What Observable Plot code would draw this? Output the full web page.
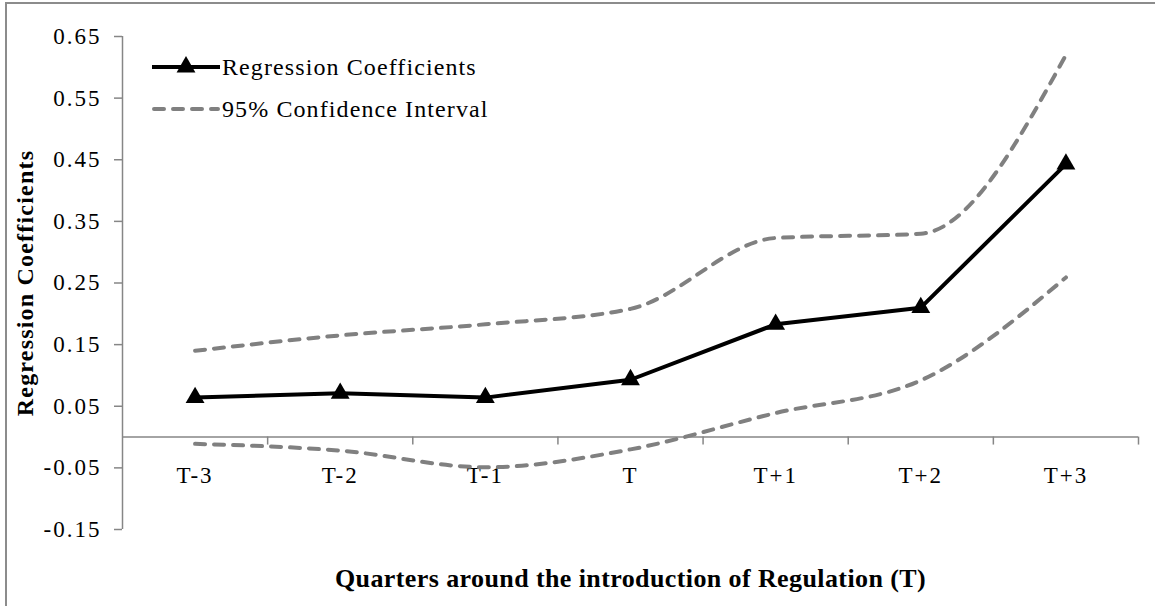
<!DOCTYPE html>
<html><head><meta charset="utf-8">
<script src="https://cdn.jsdelivr.net/npm/d3@7"></script>
<script src="https://cdn.jsdelivr.net/npm/@observablehq/plot@0.6"></script>
<style>
html,body{margin:0;padding:0;background:#fff;}
#wrap{position:relative;width:1155px;height:606px;overflow:hidden;background:#fff;}
#wrap svg{position:absolute;left:0;top:0;}
#frame{position:absolute;left:5px;top:2px;width:1300px;height:800px;border-left:2px solid #8c8c8c;border-top:2px solid #8c8c8c;pointer-events:none;}
g[aria-label="y-axis tick label"] text{letter-spacing:2px;}
.xlab text{letter-spacing:2px;}
.ytitle text{letter-spacing:1.2px;}
.xtitle text{letter-spacing:0.4px;}
.legend text{letter-spacing:1.1px;}
</style></head><body><div id="wrap"></div>
<script>
const quarters = ["T-3","T-2","T-1","T","T+1","T+2","T+3"];
const coefficients = [0.064,0.071,0.064,0.093,0.183,0.210,0.443];
const upperCI = [0.140,0.165,0.183,0.208,0.323,0.330,0.620];
const lowerCI = [-0.011,-0.022,-0.049,-0.020,0.039,0.092,0.259];
const yTicks = [-0.15,-0.05,0.05,0.15,0.25,0.35,0.45,0.55,0.65];
const seriesNames = ["Regression Coefficients","95% Confidence Interval"];
const xTitle = "Quarters around the introduction of Regulation (T)";
const yTitle = "Regression Coefficients";

const rows = quarters.map((q,i)=>({pos:i+0.5, q, coef:coefficients[i], upper:upperCI[i], lower:lowerCI[i]}));
const boundaries = d3.range(1, quarters.length+1);
const axisGray = "#868686";
const ciGray = "#808080";
const serif = "Liberation Serif, Times New Roman, serif";

const chart = Plot.plot({
  width:1155, height:606,
  marginLeft:122, marginRight:17, marginTop:36, marginBottom:77,
  style:{fontFamily:serif, fontSize:"23px", background:"transparent", color:"black"},
  x:{type:"linear", domain:[0, quarters.length], axis:null},
  y:{domain:[d3.min(yTicks), d3.max(yTicks)], axis:null},
  marks:[
    Plot.ruleX([0], {y1:d3.min(yTicks), y2:d3.max(yTicks), stroke:axisGray, strokeWidth:1.5}),
    Plot.axisY(yTicks, {tickSize:8, tickPadding:13, stroke:axisGray, strokeWidth:1.5, fill:"black", tickFormat:d=>d.toFixed(2), fontSize:23, label:null}),
    Plot.ruleY([0], {stroke:axisGray, strokeWidth:1.5}),
    Plot.ruleX(boundaries, {y1:0, y2:0, insetBottom:-8, stroke:axisGray, strokeWidth:1.5}),
    Plot.text(rows, {x:"pos", y:0, text:"q", lineAnchor:"bottom", dy:46, fontSize:23, fill:"black", className:"xlab"}),
    Plot.line(rows, {x:"pos", y:"upper", stroke:ciGray, strokeWidth:4, strokeDasharray:"10,9", strokeLinecap:"round", curve:"monotone-x"}),
    Plot.line(rows, {x:"pos", y:"lower", stroke:ciGray, strokeWidth:4, strokeDasharray:"10,9", strokeLinecap:"round", curve:"monotone-x"}),
    Plot.line(rows, {x:"pos", y:"coef", stroke:"black", strokeWidth:4}),
    Plot.dot(rows, {x:"pos", y:"coef", symbol:"triangle", fill:"black", stroke:"none", r:7}),
    Plot.text([yTitle], {text:d=>d, frameAnchor:"left", textAnchor:"middle", rotate:-90, dx:-97, fontWeight:"bold", fontSize:24, fill:"black", className:"ytitle"}),
    Plot.text([xTitle], {text:d=>d, frameAnchor:"bottom", textAnchor:"middle", lineAnchor:"bottom", dy:57, fontWeight:"bold", fontSize:26, fill:"black", className:"xtitle"})
  ]
});
const wrap = document.getElementById("wrap");
wrap.appendChild(chart);

// legend overlay
const leg = d3.select(wrap).append("svg").attr("class","legend")
  .attr("width",1155).attr("height",606)
  .style("font-family", serif).style("font-size","24px");
const legY = [67, 109];
const l1 = leg.append("g");
l1.append("line").attr("x1",152).attr("x2",220).attr("y1",legY[0]).attr("y2",legY[0]).attr("stroke","black").attr("stroke-width",4);
l1.append("path").attr("d", d3.symbol(d3.symbolTriangle, 7*7*Math.PI)()).attr("transform",`translate(186,${legY[0]})`).attr("fill","black");
l1.append("text").attr("x",222).attr("y",legY[0]).attr("dy","0.32em").text(seriesNames[0]);
const l2 = leg.append("g");
l2.append("line").attr("x1",154).attr("x2",218).attr("y1",legY[1]).attr("y2",legY[1]).attr("stroke",ciGray).attr("stroke-width",4).attr("stroke-dasharray","10,9").attr("stroke-linecap","round");
l2.append("text").attr("x",222).attr("y",legY[1]).attr("dy","0.32em").text(seriesNames[1]);

d3.select(wrap).append("div").attr("id","frame");
</script></body></html>
